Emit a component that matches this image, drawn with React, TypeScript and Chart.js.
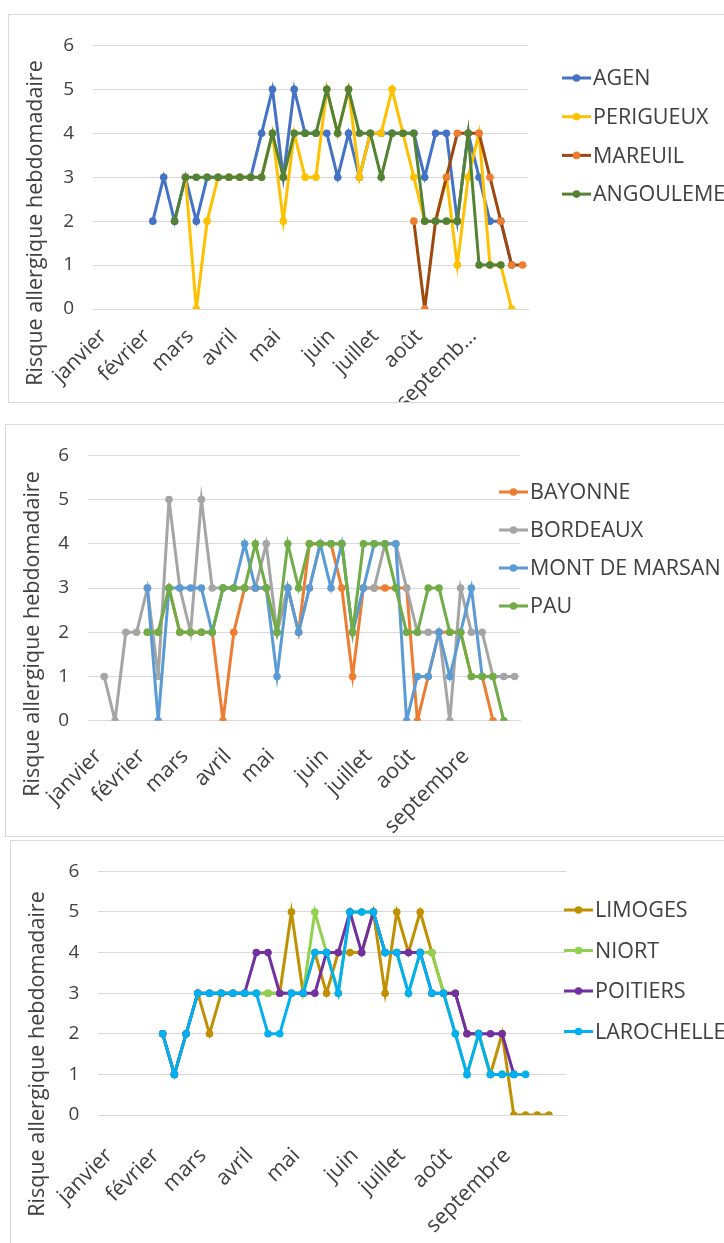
import React, { useEffect, useRef } from "react";
import { Chart, registerables } from "chart.js";

Chart.register(...registerables);

const FONT = "'Open Sans', sans-serif";
const TEXT = "#404040";
const GRID = "#d9d9d9";

// ---------- categories (40 weekly slots, month name on first week of month)
const WEEK_COUNT = 40;
const MONTH_START_WEEK = [0, 4, 8, 12, 16, 21, 25, 29, 34];
const MONTHS_TOP = ["janvier", "février", "mars", "avril", "mai", "juin", "juillet", "août", "septemb..."];
const MONTHS = ["janvier", "février", "mars", "avril", "mai", "juin", "juillet", "août", "septembre"];
const Y_TICKS = [0, 1, 2, 3, 4, 5, 6];
const Y_TITLE = "Risque allergique hebdomadaire";

const N = null;

// ---------- panel 1
const AGEN = [N, N, N, N, N, 2, 3, 2, 3, 2, 3, 3, 3, 3, 3, 4, 5, 3, 5, 4, 4, 4, 3, 4, 3, 4, 4, 4, 4, 4, 3, 4, 4, 2, 4, 3, 2, 2, 1, N];
const PERIGUEUX = [N, N, N, N, N, N, N, N, 3, 0, 2, 3, 3, 3, 3, 3, 4, 2, 4, 3, 3, 5, 4, 5, 3, 4, 4, 5, 4, 3, 2, 2, 3, 1, 3, 4, 1, 1, 0, N];
const MAREUIL = [N, N, N, N, N, N, N, N, N, N, N, N, N, N, N, N, N, N, N, N, N, N, N, N, N, N, N, N, N, 2, 0, 2, 3, 4, 4, 4, 3, 2, 1, 1];
const ANGOULEME = [N, N, N, N, N, N, N, 2, 3, 3, 3, 3, 3, 3, 3, 3, 4, 3, 4, 4, 4, 5, 4, 5, 4, 4, 3, 4, 4, 4, 2, 2, 2, 2, 4, 1, 1, 1, N, N];

// ---------- panel 2
const BAYONNE = [N, N, N, N, N, 2, 2, 3, 2, 2, 2, 2, 0, 2, 3, 3, 3, 2, 3, 2, 4, 4, 4, 3, 1, 3, 3, 3, 3, 3, 0, 1, 2, 2, 2, 1, 1, 0, N, N];
const BORDEAUX = [N, 1, 0, 2, 2, 3, 1, 5, 3, 2, 5, 3, 3, 3, 3, 3, 4, 2, 3, 2, 3, 4, 4, 4, 2, 3, 3, 4, 4, 3, 2, 2, 2, 0, 3, 2, 2, 1, 1, 1];
const MONT_DE_MARSAN = [N, N, N, N, N, 3, 0, 3, 3, 3, 3, 2, 3, 3, 4, 3, 3, 1, 3, 2, 3, 4, 3, 4, 2, 3, 4, 4, 4, 0, 1, 1, 2, 1, 2, 3, 1, N, N, N];
const PAU = [N, N, N, N, N, 2, 2, 3, 2, 2, 2, 2, 3, 3, 3, 4, 3, 2, 4, 3, 4, 4, 4, 4, 2, 4, 4, 4, 3, 2, 2, 3, 3, 2, 2, 1, 1, 1, 0, N];

// ---------- panel 3
const LIMOGES = [N, N, N, N, N, 2, 1, 2, 3, 2, 3, 3, 3, 3, 3, 3, 5, 3, 4, 3, 4, 4, 4, 5, 3, 5, 4, 5, 4, 3, 3, 2, 2, 1, 2, 0, 0, 0, 0, N];
const NIORT = [N, N, N, N, N, 2, 1, 2, 3, 3, 3, 3, 3, 3, 3, 3, 3, 3, 5, 4, 3, 5, 5, 5, 4, 4, 3, 4, 4, 3, 2, 1, 2, 1, 1, 1, N, N, N, N];
const POITIERS = [N, N, N, N, N, 2, 1, 2, 3, 3, 3, 3, 3, 4, 4, 3, 3, 3, 3, 4, 4, 5, 4, 5, 4, 4, 4, 4, 3, 3, 3, 2, 2, 2, 2, 1, N, N, N, N];
const LAROCHELLE = [N, N, N, N, N, 2, 1, 2, 3, 3, 3, 3, 3, 3, 2, 2, 3, 3, 4, 4, 3, 5, 5, 5, 4, 4, 3, 4, 3, 3, 2, 1, 2, 1, 1, 1, 1, N, N, N];

type Series = { name: string; values: (number | null)[]; line: string; point: string };
type PanelSpec = {
  frame: { left: number; top: number; height: number };
  area: { left: number; right: number; top: number; bottom: number };
  months: string[];
  labelPad: number;
  labelSize: number;
  series: Series[];
  legend: { x: number; y: number; gap: number };
  title: { x: number; y: number };
};

function buildLabels(months: string[]): string[] {
  const labels: string[] = [];
  for (let i = 0; i < WEEK_COUNT; i++) {
    const m = MONTH_START_WEEK.indexOf(i);
    labels.push(m >= 0 ? months[m] : "");
  }
  return labels;
}

const PANELS: PanelSpec[] = [
  {
    frame: { left: 8, top: 14, height: 389 },
    area: { left: 93, right: 528, top: 31, bottom: 309 },
    months: MONTHS_TOP,
    labelPad: 15,
    labelSize: 21,
    series: [
      { name: "AGEN", values: AGEN, line: "#4472C4", point: "#4472C4" },
      { name: "PERIGUEUX", values: PERIGUEUX, line: "#FFC000", point: "#FFC000" },
      { name: "MAREUIL", values: MAREUIL, line: "#9E480E", point: "#ED7D31" },
      { name: "ANGOULEME", values: ANGOULEME, line: "#548235", point: "#548235" },
    ],
    legend: { x: 562, y: 78, gap: 38.7 },
    title: { x: 36, y: 223 },
  },
  {
    frame: { left: 5, top: 424, height: 413 },
    area: { left: 88, right: 520, top: 444.7, bottom: 720.7 },
    months: MONTHS,
    labelPad: 23,
    labelSize: 21.5,
    series: [
      { name: "BAYONNE", values: BAYONNE, line: "#ED7D31", point: "#ED7D31" },
      { name: "BORDEAUX", values: BORDEAUX, line: "#A5A5A5", point: "#A5A5A5" },
      { name: "MONT DE MARSAN", values: MONT_DE_MARSAN, line: "#5B9BD5", point: "#5B9BD5" },
      { name: "PAU", values: PAU, line: "#70AD47", point: "#70AD47" },
    ],
    legend: { x: 499, y: 492, gap: 38 },
    title: { x: 33, y: 634 },
  },
  {
    frame: { left: 10, top: 840, height: 420 },
    area: { left: 98.3, right: 566.5, top: 860.2, bottom: 1115 },
    months: MONTHS,
    labelPad: 28,
    labelSize: 21.5,
    series: [
      { name: "LIMOGES", values: LIMOGES, line: "#BF9000", point: "#BF9000" },
      { name: "NIORT", values: NIORT, line: "#92D050", point: "#92D050" },
      { name: "POITIERS", values: POITIERS, line: "#7030A0", point: "#7030A0" },
      { name: "LAROCHELLE", values: LAROCHELLE, line: "#00B0F0", point: "#00B0F0" },
    ],
    legend: { x: 564, y: 910, gap: 40.5 },
    title: { x: 38, y: 1054 },
  },
];

function PanelChart({ spec }: { spec: PanelSpec }) {
  const ref = useRef<HTMLCanvasElement>(null);
  const ox = spec.frame.left + 1;
  const oy = spec.frame.top + 1;
  const W = 724 - ox;
  const H = Math.min(spec.frame.height - 2, 1243 - oy);

  useEffect(() => {
    const canvas = ref.current;
    if (!canvas) return;
    const a = {
      left: spec.area.left - ox,
      right: spec.area.right - ox,
      top: spec.area.top - oy,
      bottom: spec.area.bottom - oy,
    };
    const n = spec.series.length;

    const decor = {
      id: "excelDecor",
      afterDraw(chart: any) {
        const ctx = chart.ctx as CanvasRenderingContext2D;
        ctx.save();
        // axis title
        ctx.translate(spec.title.x - ox, spec.title.y - oy);
        ctx.rotate(-Math.PI / 2);
        ctx.font = `21.5px ${FONT}`;
        ctx.fillStyle = TEXT;
        ctx.textAlign = "center";
        ctx.textBaseline = "middle";
        ctx.fillText(Y_TITLE, 0, 0);
        ctx.restore();
        // legend
        ctx.save();
        spec.series.forEach((s, k) => {
          const y = spec.legend.y - oy + k * spec.legend.gap;
          const x = spec.legend.x - ox;
          ctx.strokeStyle = s.line;
          ctx.lineWidth = 3;
          ctx.beginPath();
          ctx.moveTo(x, y);
          ctx.lineTo(x + 29, y);
          ctx.stroke();
          ctx.fillStyle = s.point;
          ctx.beginPath();
          ctx.arc(x + 14.5, y, 3.8, 0, Math.PI * 2);
          ctx.fill();
          ctx.fillStyle = TEXT;
          ctx.font = `21.5px ${FONT}`;
          ctx.textAlign = "left";
          ctx.textBaseline = "middle";
          ctx.fillText(s.name, x + 31, y + 1);
        });
        ctx.restore();
      },
    };

    const chart = new Chart(canvas, {
      type: "line",
      data: {
        labels: buildLabels(spec.months),
        datasets: spec.series.map((s, i) => ({
          label: s.name,
          data: s.values,
          borderColor: s.line,
          backgroundColor: s.point,
          pointBackgroundColor: s.point,
          pointBorderColor: s.point,
          pointBorderWidth: 0,
          pointRadius: 3.8,
          borderWidth: 3,
          tension: 0,
          spanGaps: false,
          order: n - i,
        })),
      },
      options: {
        animation: false,
        responsive: false,
        devicePixelRatio: 1,
        layout: { padding: { left: 0, top: a.top, right: W - a.right, bottom: 0 } },
        plugins: { legend: { display: false }, tooltip: { enabled: false } },
        scales: {
          x: {
            type: "category",
            offset: true,
            grid: { display: false, drawTicks: false },
            border: { display: true, color: GRID, width: 1 },
            ticks: {
              autoSkip: false,
              maxRotation: 45,
              minRotation: 45,
              padding: spec.labelPad,
              labelOffset: 5,
              color: TEXT,
              font: { family: FONT, size: spec.labelSize },
            },
            afterFit: (scale: any) => {
              scale.height = H - a.bottom;
            },
          },
          y: {
            min: 0,
            max: 6,
            afterBuildTicks: (scale: any) => {
              scale.ticks = Y_TICKS.map((v) => ({ value: v }));
            },
            grid: { color: GRID, lineWidth: 1, drawTicks: false },
            border: { display: false },
            ticks: {
              padding: 19,
              color: TEXT,
              font: { family: FONT, size: 19 },
            },
            afterFit: (scale: any) => {
              scale.width = a.left;
            },
          },
        },
      },
      plugins: [decor],
    } as any);
    return () => chart.destroy();
  }, []);

  return (
    <>
      <div
        style={{
          position: "absolute",
          left: spec.frame.left,
          top: spec.frame.top,
          width: 900,
          height: spec.frame.height,
          border: `1px solid ${GRID}`,
          boxSizing: "border-box",
          background: "#fff",
        }}
      />
      <canvas
        ref={ref}
        width={W}
        height={H}
        style={{ position: "absolute", left: ox, top: oy, width: W, height: H }}
      />
    </>
  );
}

export default function App() {
  return (
    <div
      style={{
        position: "fixed",
        left: 0,
        top: 0,
        width: 724,
        height: 1243,
        overflow: "hidden",
        background: "#fff",
      }}
    >
      {PANELS.map((p, i) => (
        <PanelChart key={i} spec={p} />
      ))}
    </div>
  );
}
